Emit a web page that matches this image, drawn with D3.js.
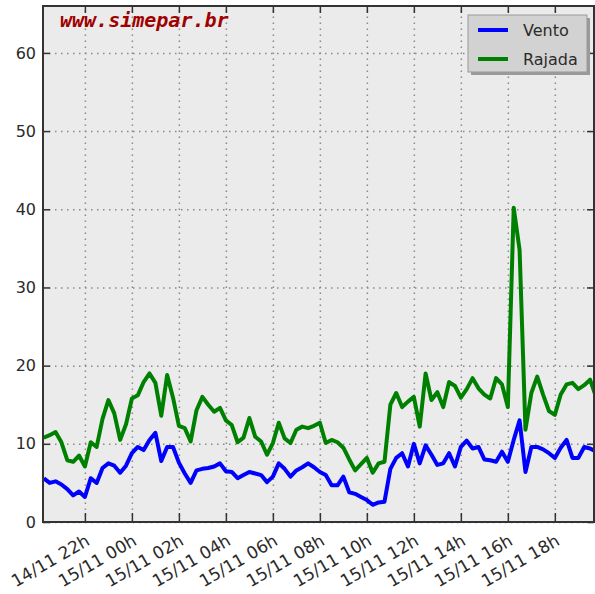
<!DOCTYPE html>
<html lang="en">
    <head>
        <meta charset="utf-8">
        <title>Vento e Rajada</title>
        <script type="text/javascript" src="https://d3js.org/d3.v7.min.js"></script>
        <style>
            body { margin: 0; background: #fff; }
            text { font-family: "DejaVu Sans", sans-serif; }
        </style>
    </head>
    <body>
        <div id="chart"></div>
        <script type="text/javascript">

            // data every 15 min, starting 14/11 20:15
            var startTime = "14/11 20:15";
            var stepMinutes = 15;

            var vento = [
                5.6, 5.0, 5.2, 4.8, 4.2, 3.4, 3.9, 3.2, 5.6, 5.0,
                6.9, 7.5, 7.2, 6.3, 7.2, 8.8, 9.6, 9.2, 10.5, 11.4,
                7.8, 9.6, 9.6, 7.6, 6.2, 5.0, 6.6, 6.8, 6.9, 7.1,
                7.5, 6.5, 6.4, 5.6, 6.0, 6.4, 6.2, 6.0, 5.1, 5.8,
                7.5, 6.8, 5.8, 6.6, 7.0, 7.5, 7.0, 6.4, 6.0, 4.7,
                4.7, 5.8, 3.8, 3.6, 3.2, 2.8, 2.2, 2.5, 2.6, 6.8,
                8.2, 8.8, 7.1, 10.0, 7.5, 9.8, 8.6, 7.3, 7.5, 8.8,
                7.1, 9.6, 10.4, 9.4, 9.6, 8.0, 7.9, 7.7, 9.0, 7.7,
                10.5, 13.0, 6.4, 9.6, 9.6, 9.3, 8.8, 8.2, 9.5, 10.5,
                8.2, 8.2, 9.6, 9.4, 9.0
            ];

            var rajada = [
                10.8, 11.1, 11.5, 10.2, 7.9, 7.7, 8.5, 7.1, 10.2, 9.6,
                13.2, 15.6, 13.9, 10.5, 12.5, 15.8, 16.2, 17.9, 19.0, 17.8,
                13.6, 18.8, 15.9, 12.3, 12.0, 10.3, 14.3, 16.0, 15.0, 14.1,
                14.6, 13.0, 12.4, 10.2, 10.8, 13.3, 10.9, 10.3, 8.6, 10.1,
                12.7, 10.7, 10.1, 11.8, 12.2, 12.0, 12.3, 12.7, 10.1, 10.5,
                10.2, 9.5, 8.0, 6.6, 7.4, 8.2, 6.3, 7.5, 7.7, 15.0,
                16.5, 14.7, 15.4, 16.0, 12.2, 19.0, 15.6, 16.6, 14.7, 17.9,
                17.4, 15.9, 17.0, 18.4, 17.1, 16.3, 15.8, 18.4, 17.6, 14.7,
                40.2, 34.8, 11.8, 16.5, 18.6, 16.3, 14.2, 13.7, 16.3, 17.6,
                17.8, 17.0, 17.5, 18.2, 16.0
            ];

            var xTickLabels = ["14/11 22h", "15/11 00h", "15/11 02h", "15/11 04h", "15/11 06h",
                               "15/11 08h", "15/11 10h", "15/11 12h", "15/11 14h", "15/11 16h", "15/11 18h"];
            var yTicks = [0, 10, 20, 30, 40, 50, 60];
            var seriesNames = ["Vento", "Rajada"];
            var seriesColors = ["#0000ff", "#008000"];

            var w = 595;
            var h = 594;
            var padLeft = 43, padRight = 594, padTop = 6, padBottom = 522;

            var parseTick = d3.timeParse("%d/%m %Hh");
            var parseTime = d3.timeParse("%d/%m %H:%M");
            var t0 = parseTime(startTime);
            var times = vento.map(function(d, i) { return d3.timeMinute.offset(t0, i * stepMinutes); });

            var xScale = d3.scaleTime()
                .domain([parseTime("14/11 20:13"), parseTime("15/11 19:40")])
                .range([padLeft, padRight]);

            var yScale = d3.scaleLinear()
                .domain([0, 66])
                .range([padBottom, padTop]);

            var tickDates = xTickLabels.map(function(d) { return parseTick(d); });

            var svg = d3.select("#chart")
                        .append("svg")
                        .attr("width", w)
                        .attr("height", h);

            svg.append("rect")
                .attr("x", padLeft).attr("y", padTop)
                .attr("width", padRight - padLeft).attr("height", padBottom - padTop)
                .attr("fill", "#ebebeb");

            // dotted grid
            svg.append("g")
                .attr("class", "grid")
                .attr("transform", "translate(0," + padBottom + ")")
                .call(d3.axisBottom(xScale).tickValues(tickDates).tickSize(-(padBottom - padTop)).tickFormat(""))
                .call(function(g) { g.select(".domain").remove(); });

            svg.append("g")
                .attr("class", "grid")
                .attr("transform", "translate(" + padLeft + ",0)")
                .call(d3.axisLeft(yScale).tickValues(yTicks).tickSize(-(padRight - padLeft)).tickFormat(""))
                .call(function(g) { g.select(".domain").remove(); });

            svg.selectAll(".grid line")
                .attr("stroke", "#8a8a8a")
                .attr("stroke-width", 1.5)
                .attr("stroke-dasharray", "1.5,4.5");

            // lines
            svg.append("clipPath").attr("id", "clip")
                .append("rect")
                .attr("x", padLeft).attr("y", padTop)
                .attr("width", padRight - padLeft).attr("height", padBottom - padTop);

            var line = d3.line()
                .x(function(d, i) { return xScale(times[i]); })
                .y(function(d) { return yScale(d); });

            [vento, rajada].forEach(function(s, k) {
                svg.append("path")
                    .datum(s)
                    .attr("clip-path", "url(#clip)")
                    .attr("fill", "none")
                    .attr("stroke", seriesColors[k])
                    .attr("stroke-width", 4)
                    .attr("stroke-linejoin", "round")
                    .attr("d", line);
            });

            // ticks on all four sides, pointing in
            svg.append("g")
                .attr("class", "axis")
                .attr("transform", "translate(0," + padBottom + ")")
                .call(d3.axisBottom(xScale).tickValues(tickDates).tickSize(-9).tickFormat(""));

            svg.append("g")
                .attr("class", "axis")
                .attr("transform", "translate(0," + padTop + ")")
                .call(d3.axisTop(xScale).tickValues(tickDates).tickSize(-7).tickFormat(""));

            svg.append("g")
                .attr("class", "axis")
                .attr("transform", "translate(" + padLeft + ",0)")
                .call(d3.axisLeft(yScale).tickValues(yTicks).tickSize(-7).tickPadding(7))
                .selectAll("text")
                .style("font-size", "16px")
                .attr("fill", "#2a2a2a");

            svg.append("g")
                .attr("class", "axis")
                .attr("transform", "translate(" + padRight + ",0)")
                .call(d3.axisRight(yScale).tickValues(yTicks).tickSize(-7).tickFormat(""));

            svg.selectAll(".axis .domain").remove();
            svg.selectAll(".axis line").attr("stroke", "#333").attr("stroke-width", 1.5);

            // rotated date labels
            svg.append("g")
                .selectAll("text")
                .data(tickDates)
                .enter()
                .append("text")
                .attr("transform", function(d) {
                    return "translate(" + (xScale(d) + 6) + "," + (padBottom + 22) + ") rotate(-30)";
                })
                .attr("text-anchor", "end")
                .style("font-size", "17px")
                .attr("fill", "#2a2a2a")
                .text(function(d, i) { return xTickLabels[i]; });

            // frame
            svg.append("rect")
                .attr("x", padLeft).attr("y", padTop)
                .attr("width", padRight - padLeft).attr("height", padBottom - padTop)
                .attr("fill", "none")
                .attr("stroke", "#333")
                .attr("stroke-width", 2);

            // watermark
            svg.append("text")
                .attr("x", 60)
                .attr("y", 27)
                .style("font-family", "'DejaVu Sans Mono', monospace")
                .style("font-weight", "bold")
                .style("font-style", "italic")
                .style("font-size", "20px")
                .attr("fill", "#a00000")
                .text("www.simepar.br");

            // legend
            var lg = svg.append("g").attr("transform", "translate(468,15)");
            lg.append("rect")
                .attr("x", 3).attr("y", 3)
                .attr("width", 119).attr("height", 57)
                .attr("fill", "#9a9a9a");
            lg.append("rect")
                .attr("width", 119).attr("height", 57)
                .attr("fill", "#d2d2d2")
                .attr("stroke", "#999")
                .attr("stroke-width", 1);

            seriesNames.forEach(function(name, k) {
                lg.append("line")
                    .attr("x1", 10).attr("x2", 40)
                    .attr("y1", 15 + k * 29).attr("y2", 15 + k * 29)
                    .attr("stroke", seriesColors[k])
                    .attr("stroke-width", 4);
                lg.append("text")
                    .attr("x", 55)
                    .attr("y", 21 + k * 29)
                    .style("font-size", "16px")
                    .attr("fill", "#2a2a2a")
                    .text(name);
            });

        </script>
    </body>
</html>
